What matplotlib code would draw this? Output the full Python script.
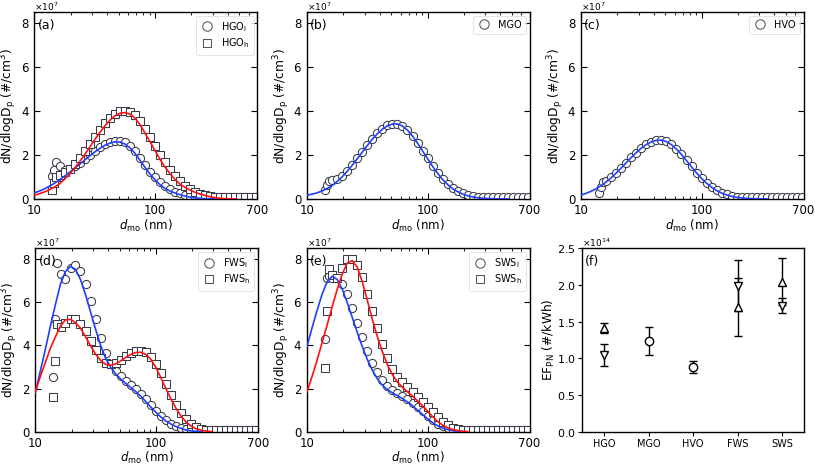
import numpy as np
import matplotlib
matplotlib.use("Agg")
import matplotlib.pyplot as plt
from matplotlib.ticker import ScalarFormatter, LogLocator, NullFormatter

# ---------------- data ----------------
# diameters (nm) of the fitted curves
D_fit = [10.0, 11.0, 12.1, 13.3, 14.7, 16.2, 17.8, 19.6, 21.5, 23.7, 26.1, 28.7, 31.6, 34.8,
         38.3, 42.2, 46.4, 51.1, 56.2, 61.9, 68.1, 75.0, 82.5, 90.9, 100, 110, 121, 133, 147,
         162, 178, 196, 215, 237, 261, 287, 316, 348, 383, 422, 464, 511, 562, 619, 681]
# diameters (nm) of the measured points
D_obs = [14.1, 14.6, 15.2, 16.2, 17.8, 19.6, 21.5, 23.7, 26.1, 28.7, 31.6, 34.8, 38.3, 42.2,
         46.4, 51.1, 56.2, 61.9, 68.1, 75.0, 82.5, 90.9, 100, 110, 121, 133, 147, 162, 178,
         196, 215, 237, 261, 287, 316, 348, 383, 422, 464, 511, 562, 619, 681]

# dN/dlogDp in units of 1e7 #/cm3
hgo_l_fit = [0.28, 0.36, 0.46, 0.58, 0.72, 0.88, 1.04, 1.22, 1.40, 1.58, 1.77, 1.96, 2.14, 2.30,
             2.44, 2.54, 2.60, 2.59, 2.50, 2.33, 2.08, 1.76, 1.44, 1.13, 0.87, 0.65, 0.48, 0.36,
             0.27, 0.19, 0.13, 0.08, 0.05, 0.03, 0.015, 0.008, 0.004, 0.0]
hgo_h_fit = [0.17, 0.24, 0.32, 0.42, 0.54, 0.70, 0.90, 1.14, 1.40, 1.70, 2.02, 2.36, 2.70, 3.02,
             3.32, 3.58, 3.78, 3.90, 3.93, 3.86, 3.68, 3.38, 3.00, 2.60, 2.20, 1.80, 1.45, 1.15,
             0.88, 0.66, 0.52, 0.40, 0.30, 0.22, 0.16, 0.10, 0.06, 0.03, 0.015, 0.007, 0.0]
hgo_l_obs = [1.05, 1.32, 1.70, 1.50, 1.30, 1.35, 1.48, 1.64, 1.82, 2.00,
             2.18, 2.35, 2.50, 2.60, 2.66, 2.66, 2.58, 2.42, 2.18, 1.88,
             1.56, 1.25, 0.98, 0.76, 0.58, 0.45, 0.34, 0.25, 0.18, 0.13,
             0.10, 0.09, 0.08, 0.08, 0.09, 0.08, 0.08, 0.09, 0.08, 0.08,
             0.09, 0.08, 0.08]
hgo_h_obs = [0.41, 0.71, 0.98, 1.10, 1.22, 1.38, 1.60, 1.86, 2.16, 2.48,
             2.82, 3.14, 3.44, 3.70, 3.88, 3.98, 4.00, 3.95, 3.80, 3.54,
             3.20, 2.82, 2.42, 2.02, 1.66, 1.34, 1.05, 0.80, 0.60, 0.45,
             0.33, 0.24, 0.17, 0.12, 0.10, 0.09, 0.08, 0.08, 0.09, 0.08,
             0.08, 0.09, 0.08]

mgo_fit = [0.17, 0.22, 0.28, 0.36, 0.48, 0.615, 0.796, 1.015, 1.253, 1.533, 1.83, 2.13, 2.43,
           2.72, 2.97, 3.18, 3.33, 3.41, 3.41, 3.32, 3.13, 2.86, 2.54, 2.18, 1.83, 1.48, 1.17,
           0.89, 0.65, 0.46, 0.33, 0.22, 0.146, 0.092, 0.057, 0.034, 0.02, 0.011, 0.006, 0.003,
           0.001]
mgo_obs = [0.40, 0.65, 0.82, 0.86, 0.92, 1.06, 1.28, 1.55, 1.85, 2.15,
           2.45, 2.74, 2.99, 3.20, 3.35, 3.43, 3.43, 3.34, 3.15, 2.88,
           2.56, 2.20, 1.85, 1.50, 1.19, 0.91, 0.67, 0.48, 0.35, 0.25,
           0.18, 0.13, 0.10, 0.09, 0.08, 0.08, 0.09, 0.08, 0.08, 0.09,
           0.08, 0.08, 0.08]

hvo_fit = [0.18, 0.256, 0.348, 0.462, 0.609, 0.779, 0.968, 1.183, 1.405, 1.647, 1.886, 2.109,
           2.312, 2.479, 2.599, 2.667, 2.676, 2.61, 2.47, 2.265, 2.02, 1.742, 1.461, 1.184,
           0.934, 0.716, 0.532, 0.384, 0.264, 0.178, 0.118, 0.075, 0.047, 0.028, 0.016, 0.009,
           0.005, 0.002]
hvo_obs = [0.29, 0.56, 0.79, 0.82, 0.98, 1.19, 1.41, 1.65, 1.89, 2.11,
           2.32, 2.49, 2.61, 2.68, 2.69, 2.62, 2.48, 2.28, 2.03, 1.76,
           1.48, 1.20, 0.95, 0.74, 0.56, 0.41, 0.29, 0.21, 0.15, 0.11,
           0.09, 0.08, 0.08, 0.09, 0.08, 0.08, 0.08, 0.09, 0.08, 0.08,
           0.08, 0.09, 0.08]

fws_l_fit = [1.80, 2.80, 3.80, 4.85, 5.90, 6.85, 7.42, 7.66, 7.52, 7.05, 6.35, 5.55, 4.75, 4.00,
             3.40, 2.98, 2.68, 2.44, 2.24, 2.05, 1.86, 1.64, 1.40, 1.14, 0.90, 0.68, 0.50, 0.36,
             0.24, 0.15, 0.08, 0.04, 0.02, 0.01]
fws_h_fit = [1.85, 2.55, 3.20, 3.85, 4.40, 4.90, 5.18, 5.20, 5.05, 4.80, 4.40, 3.98, 3.60, 3.30,
             3.12, 3.08, 3.14, 3.28, 3.44, 3.58, 3.67, 3.68, 3.58, 3.35, 2.98, 2.50, 2.00, 1.52,
             1.08, 0.72, 0.45, 0.26, 0.14, 0.07, 0.03, 0.01]
fws_l_obs = [2.55, 5.23, 7.80, 7.30, 7.05, 7.60, 7.70, 7.45, 6.85, 6.05,
             5.20, 4.35, 3.65, 3.15, 2.82, 2.58, 2.36, 2.16, 1.96, 1.74,
             1.50, 1.24, 0.98, 0.74, 0.54, 0.38, 0.26, 0.17, 0.12, 0.10,
             0.09, 0.08, 0.08, 0.09, 0.08, 0.08, 0.09, 0.08, 0.08, 0.08,
             0.09, 0.08, 0.08]
fws_h_obs = [1.60, 3.29, 5.00, 4.85, 5.05, 5.20, 5.20, 5.00, 4.65, 4.20,
             3.78, 3.42, 3.20, 3.12, 3.18, 3.32, 3.50, 3.64, 3.74, 3.76,
             3.68, 3.48, 3.14, 2.70, 2.20, 1.72, 1.26, 0.88, 0.58, 0.36,
             0.22, 0.14, 0.10, 0.09, 0.08, 0.08, 0.09, 0.08, 0.08, 0.08,
             0.09, 0.08, 0.08]

sws_l_fit = [3.95, 4.80, 5.60, 6.35, 6.95, 7.20, 7.05, 6.60, 6.00, 5.30, 4.60, 3.95, 3.35, 2.85,
             2.45, 2.15, 1.95, 1.80, 1.67, 1.53, 1.38, 1.20, 1.00, 0.80, 0.60, 0.42, 0.28, 0.17,
             0.10, 0.05, 0.02, 0.01]
sws_h_fit = [1.85, 2.55, 3.30, 4.10, 4.95, 5.80, 6.60, 7.30, 7.80, 7.92, 7.62, 6.95, 6.10, 5.20,
             4.40, 3.70, 3.10, 2.65, 2.30, 2.05, 1.85, 1.65, 1.43, 1.20, 0.95, 0.70, 0.48, 0.31,
             0.18, 0.10, 0.05, 0.02, 0.01]
sws_l_obs = [4.29, 7.13, 7.20, 7.10, 7.10, 6.85, 6.40, 5.75, 5.05, 4.38,
             3.75, 3.20, 2.75, 2.38, 2.12, 1.95, 1.80, 1.66, 1.52, 1.35,
             1.15, 0.95, 0.74, 0.55, 0.38, 0.25, 0.16, 0.11, 0.09, 0.08,
             0.08, 0.09, 0.08, 0.08, 0.08, 0.09, 0.08, 0.08, 0.08, 0.09,
             0.08, 0.08, 0.08]
sws_h_obs = [2.96, 5.60, 7.55, 7.25, 7.10, 7.60, 7.98, 8.00, 7.70, 7.15,
             6.40, 5.60, 4.80, 4.05, 3.42, 2.92, 2.55, 2.28, 2.05, 1.85,
             1.63, 1.40, 1.15, 0.90, 0.66, 0.45, 0.30, 0.19, 0.13, 0.10,
             0.09, 0.08, 0.08, 0.09, 0.08, 0.08, 0.08, 0.09, 0.08, 0.08,
             0.09, 0.08, 0.08]

# panel (f): emission factors (1e14 #/kWh)
fuels = ["HGO", "MGO", "HVO", "FWS", "SWS"]
ef_up_fuels = ["HGO", "FWS", "SWS"]
ef_up = [1.41, 1.70, 2.04]
ef_up_err = [0.07, 0.39, 0.32]
ef_down_fuels = ["HGO", "FWS", "SWS"]
ef_down = [1.045, 1.99, 1.715]
ef_down_err = [0.145, 0.35, 0.10]
ef_circ_fuels = ["MGO", "HVO"]
ef_circ = [1.23, 0.88]
ef_circ_err = [0.19, 0.083]

# ---------------- styling ----------------
BLUE = "#1f3fff"
RED = "#ff1010"
MEC = "#3a3a48"
FS = 8.5

plt.rcParams["font.family"] = ["DejaVu Sans"]
plt.rcParams["mathtext.default"] = "regular"

fig = plt.figure(figsize=(8.15, 4.66), dpi=100)
W = 0.2730
H_top = 0.4010
lefts = [0.0423, 0.3767, 0.7129]
b_top = 0.5730
b_bot = 0.0735
H_bot = 0.4675 - b_bot


def sci_formatter(ax):
    fmt = ScalarFormatter(useMathText=True)
    fmt.set_powerlimits((0, 0))
    ax.yaxis.set_major_formatter(fmt)
    ax.yaxis.get_offset_text().set_visible(False)


def style_psd(ax, letter):
    ax.set_xscale("log")
    ax.set_xlim(10, 700)
    ax.set_ylim(0, 8.5e7)
    ax.set_xticks([10, 100, 700])
    ax.set_xticklabels(["10", "100", "700"])
    ax.xaxis.set_minor_locator(LogLocator(base=10, subs=np.arange(2, 10)))
    ax.xaxis.set_minor_formatter(NullFormatter())
    ax.set_yticks([0, 2e7, 4e7, 6e7, 8e7])
    sci_formatter(ax)
    ax.text(0.0, 1.005, "$\\times$10$^{7}$", transform=ax.transAxes, fontsize=6.5,
            va="baseline", ha="left")
    ax.tick_params(which="both", direction="in", top=True, right=True, labelsize=FS)
    ax.tick_params(axis="x", which="major", pad=3.5)
    ax.tick_params(which="major", length=4, width=0.8)
    ax.tick_params(which="minor", length=2, width=0.6)
    for s in ax.spines.values():
        s.set_linewidth(1.0)
    ax.set_xlabel("$\\mathit{d}_{mo}$ (nm)", fontsize=FS, labelpad=0.5)
    ax.set_ylabel("dN/dlogD$_{p}$ (#/cm$^{3}$)", fontsize=FS + 0.3)
    ax.yaxis.set_label_coords(-0.068, 0.5)
    ax.text(0.015, 0.965, letter, transform=ax.transAxes, fontsize=FS + 0.5,
            va="top", ha="left")


def psd_panel(ax, letter, obs, fits, labels):
    markers = ["o", "s"]
    sizes = [5.9, 5.4]
    handles = []
    for i, vals in enumerate(obs):
        n = min(len(vals), len(D_obs))
        h, = ax.plot(D_obs[:n], np.array(vals[:n]) * 1e7, linestyle="none",
                     marker=markers[i], ms=sizes[i], mfc="white", mec=MEC, mew=0.75,
                     label=labels[i], zorder=2)
        handles.append(h)
    colors = [BLUE, RED]
    for i, vals in enumerate(fits):
        n = min(len(vals), len(D_fit))
        ax.plot(D_fit[:n], np.array(vals[:n]) * 1e7, color=colors[i], lw=1.2, zorder=3)
    style_psd(ax, letter)
    leg = ax.legend(handles=handles, loc="upper right", fontsize=7, frameon=True,
                    fancybox=True, borderpad=0.45, handletextpad=0.8, labelspacing=0.3,
                    handlelength=1.3, borderaxespad=0.35, markerscale=1.15)
    leg.get_frame().set_edgecolor("#d8d8d8")
    leg.get_frame().set_linewidth(0.6)
    for lh in leg.legend_handles:
        lh.set_markeredgecolor("#555555")


ax_a = fig.add_axes([lefts[0], b_top, W, H_top])
psd_panel(ax_a, "(a)", [hgo_l_obs, hgo_h_obs], [hgo_l_fit, hgo_h_fit],
          ["HGO$_{l}$", "HGO$_{h}$"])
ax_b = fig.add_axes([lefts[1], b_top, W, H_top])
psd_panel(ax_b, "(b)", [mgo_obs], [mgo_fit], ["MGO"])
ax_c = fig.add_axes([lefts[2], b_top, W, H_top])
psd_panel(ax_c, "(c)", [hvo_obs], [hvo_fit], ["HVO"])
ax_d = fig.add_axes([lefts[0] + 0.001, b_bot, W, H_bot])
psd_panel(ax_d, "(d)", [fws_l_obs, fws_h_obs], [fws_l_fit, fws_h_fit],
          ["FWS$_{l}$", "FWS$_{h}$"])
ax_e = fig.add_axes([lefts[1], b_bot, W, H_bot])
psd_panel(ax_e, "(e)", [sws_l_obs, sws_h_obs], [sws_l_fit, sws_h_fit],
          ["SWS$_{l}$", "SWS$_{h}$"])

# panel (f)
ax_f = fig.add_axes([lefts[2] + 0.001, b_bot, W, H_bot])
common = dict(mfc="white", mec="black", ecolor="black", capsize=3, ms=6, mew=1.0,
              elinewidth=1.0, capthick=1.0, linestyle="none")
ax_f.errorbar([fuels.index(f) for f in ef_up_fuels], np.array(ef_up) * 1e14,
              yerr=np.array(ef_up_err) * 1e14, fmt="^", **common)
ax_f.errorbar([fuels.index(f) for f in ef_down_fuels], np.array(ef_down) * 1e14,
              yerr=np.array(ef_down_err) * 1e14, fmt="v", **common)
ax_f.errorbar([fuels.index(f) for f in ef_circ_fuels], np.array(ef_circ) * 1e14,
              yerr=np.array(ef_circ_err) * 1e14, fmt="o", **common)
ax_f.set_xlim(-0.5, 4.5)
ax_f.set_ylim(0, 2.5e14)
ax_f.set_xticks(range(len(fuels)))
ax_f.set_xticklabels(fuels, fontsize=7)
ax_f.set_yticks(np.arange(0, 2.51, 0.5) * 1e14)
sci_formatter(ax_f)
ax_f.text(0.0, 1.005, "$\\times$10$^{14}$", transform=ax_f.transAxes, fontsize=6.5,
          va="baseline", ha="left")
ax_f.tick_params(axis="y", labelsize=8, pad=1.5)
ax_f.tick_params(axis="x", pad=2.5)
ax_f.tick_params(which="major", length=3, width=0.8)
for s in ax_f.spines.values():
    s.set_linewidth(1.0)
ax_f.set_ylabel("EF$_{PN}$ (#/kWh)", fontsize=FS + 0.3)
ax_f.yaxis.set_label_coords(-0.112, 0.5)
ax_f.text(0.015, 0.965, "(f)", transform=ax_f.transAxes, fontsize=FS + 0.5,
          va="top", ha="left")

fig.savefig("out.png", dpi=100)
